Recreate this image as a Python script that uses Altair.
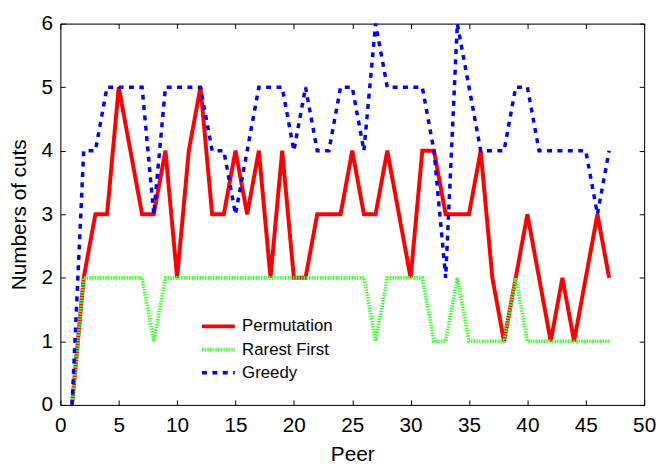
import altair as alt
import pandas as pd

peers = list(range(1, 48))
permutation = [0, 2, 3, 3, 5, 4, 3, 3, 4, 2,
               4, 5, 3, 3, 4, 3, 4, 2, 4, 2,
               2, 3, 3, 3, 4, 3, 3, 4, 3, 2,
               4, 4, 3, 3, 3, 4, 2, 1, 2, 3,
               2, 1, 2, 1, 2, 3, 2]
rarest_first = [0, 2, 2, 2, 2, 2, 2, 1, 2, 2,
                2, 2, 2, 2, 2, 2, 2, 2, 2, 2,
                2, 2, 2, 2, 2, 2, 1, 2, 2, 2,
                2, 1, 1, 2, 1, 1, 1, 1, 2, 1,
                1, 1, 1, 1, 1, 1, 1]
greedy = [0, 4, 4, 5, 5, 5, 5, 3, 5, 5,
          5, 5, 4, 4, 3, 4, 5, 5, 5, 4,
          5, 4, 4, 5, 5, 4, 6, 5, 5, 5,
          5, 4, 2, 6, 5, 4, 4, 4, 5, 5,
          4, 4, 4, 4, 4, 3, 4]
series_names = ["Permutation", "Rarest First", "Greedy"]
x_ticks = [0, 5, 10, 15, 20, 25, 30, 35, 40, 45, 50]
y_ticks = [0, 1, 2, 3, 4, 5, 6]

rows = []
for name, vals in zip(series_names, [permutation, rarest_first, greedy]):
    for p, v in zip(peers, vals):
        rows.append({"Peer": p, "Cuts": v, "Series": name})
df = pd.DataFrame(rows)

FONT = "Liberation Sans"
TICK_FS = 21
TITLE_FS = 21

xscale = alt.Scale(domain=[0, 50], nice=False)
yscale = alt.Scale(domain=[0, 6], nice=False)

color = alt.Color(
    "Series:N",
    scale=alt.Scale(domain=series_names, range=["#ff0000", "#44ff33", "#0000ff"]),
    legend=alt.Legend(
        title=None, orient="none", legendX=139, legendY=296,
        symbolType="stroke", symbolSize=1100, symbolStrokeWidth=4,
        labelFont=FONT, labelFontSize=17, labelColor="#000000",
        labelOffset=5, rowPadding=5.5, clipHeight=17,
        fillColor="white", padding=2,
    ),
)
dash = alt.StrokeDash(
    "Series:N",
    scale=alt.Scale(domain=series_names, range=[[1, 0], [1.5, 1.2], [5, 5.5]]),
    legend=None,
)
width = alt.StrokeWidth(
    "Series:N",
    scale=alt.Scale(domain=series_names, range=[4, 3.5, 4.5]),
    legend=None,
)

base_main = alt.Chart(df).mark_line(strokeCap="butt").encode(
    x=alt.X("Peer:Q", scale=xscale,
            axis=alt.Axis(values=x_ticks, title="Peer", grid=False,
                          tickSize=alt.ExprRef("-5"), labelPadding=15,
                          tickColor="black", domainColor="black",
                          labelFont=FONT, labelFontSize=TICK_FS, labelColor="black",
                          labelFlush=False, labelOverlap=False,
                          titleFont=FONT, titleFontSize=TITLE_FS, titleFontWeight="normal",
                          titleColor="black", titleBaseline="alphabetic", titleY=56)),
    y=alt.Y("Cuts:Q", scale=yscale,
            axis=alt.Axis(values=y_ticks, title="Numbers of cuts", grid=False,
                          tickSize=alt.ExprRef("-5"), labelPadding=13,
                          tickColor="black", domainColor="black",
                          labelFont=FONT, labelFontSize=TICK_FS, labelColor="black",
                          labelFlush=False, labelOverlap=False,
                          titleFont=FONT, titleFontSize=TITLE_FS, titleFontWeight="normal",
                          titleColor="black", titleBaseline="alphabetic", titleX=-35)),
    color=color,
    strokeDash=dash,
    strokeWidth=width,
)

frame = alt.Chart(df).mark_line(opacity=0).encode(
    x=alt.X("Peer:Q", scale=xscale,
            axis=alt.Axis(orient="top", values=x_ticks, labels=False, title=None,
                          grid=False, tickSize=alt.ExprRef("-5"),
                          tickColor="black", domainColor="black")),
    y=alt.Y("Cuts:Q", scale=yscale,
            axis=alt.Axis(orient="right", values=y_ticks, labels=False, title=None,
                          grid=False, tickSize=alt.ExprRef("-5"),
                          tickColor="black", domainColor="black")),
    detail="Series:N",
)

chart = alt.layer(base_main, frame).resolve_axis(
    x="independent", y="independent"
).properties(
    width=591, height=386,
    autosize=alt.AutoSizeParams(type="none"),
    padding={"left": 53, "top": 13, "right": 12, "bottom": 58},
).configure_view(
    stroke="black", strokeWidth=1
).configure(background="white")

chart.save("out.html", embed_options={"renderer": "svg", "actions": False})
